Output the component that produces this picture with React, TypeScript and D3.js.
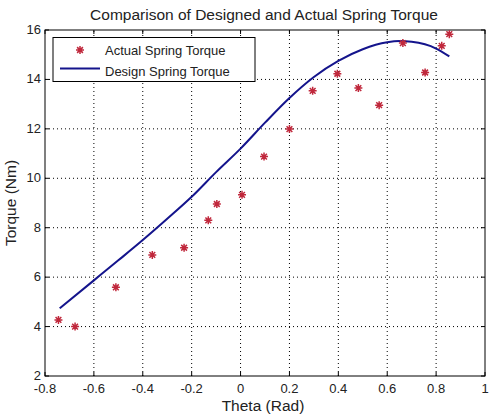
import React from 'react';
import * as d3 from 'd3';

// actual measured torque samples
const actualTheta = [-0.745, -0.677, -0.51, -0.361, -0.231, -0.132, -0.097, 0.006, 0.096, 0.2, 0.295, 0.396, 0.482, 0.567, 0.664, 0.755, 0.823, 0.854];
const actualTorque = [4.27, 4.0, 5.59, 6.9, 7.19, 8.3, 8.96, 9.33, 10.88, 11.99, 13.54, 14.23, 13.65, 12.96, 15.47, 14.28, 15.36, 15.83];

// design curve
const designTheta = [-0.74, -0.6, -0.5, -0.4, -0.3, -0.2, -0.1, 0, 0.1, 0.2, 0.3, 0.4, 0.5, 0.6, 0.65, 0.7, 0.8, 0.854];
const designTorque = [4.74, 5.87, 6.68, 7.5, 8.36, 9.25, 10.25, 11.2, 12.25, 13.25, 14.1, 14.75, 15.22, 15.5, 15.55, 15.52, 15.25, 14.93];

const xTicks = [-0.8, -0.6, -0.4, -0.2, 0, 0.2, 0.4, 0.6, 0.8, 1];
const yTicks = [2, 4, 6, 8, 10, 12, 14, 16];

const W = 492;
const H = 414;
const margin = { top: 30, right: 7, bottom: 38, left: 45 };
const font = 'Liberation Sans, Arial, sans-serif';

const star = (cx: number, cy: number, r: number) => {
  const d = r * 0.72;
  return `M${cx - r},${cy}L${cx + r},${cy}M${cx},${cy - r}L${cx},${cy + r}` +
    `M${cx - d},${cy - d}L${cx + d},${cy + d}M${cx - d},${cy + d}L${cx + d},${cy - d}`;
};

const App = () => {
  const x = d3.scaleLinear().domain([-0.8, 1]).range([margin.left, W - margin.right]);
  const y = d3.scaleLinear().domain([2, 16]).range([H - margin.bottom, margin.top]);
  const [x0, x1] = x.range();
  const [y0, y1] = y.range();

  const line = d3.line<number>()
    .x((_, i) => x(designTheta[i]))
    .y((d) => y(d))
    .curve(d3.curveMonotoneX);

  const fmt = (v: number) => String(v);

  return (
    <svg width={W} height={H} style={{ position: 'absolute', left: 0, top: 0, background: '#fff' }}
      fontFamily={font}>
      {/* grid */}
      {xTicks.slice(1, -1).map((t) => (
        <line key={'gx' + t} x1={x(t)} x2={x(t)} y1={y0} y2={y1} stroke="#000" strokeWidth={1} strokeDasharray="1,3" />
      ))}
      {yTicks.slice(1, -1).map((t) => (
        <line key={'gy' + t} x1={x0} x2={x1} y1={y(t)} y2={y(t)} stroke="#000" strokeWidth={1} strokeDasharray="1,3" />
      ))}
      {/* ticks inward */}
      {xTicks.map((t) => (
        <g key={'tx' + t}>
          <line x1={x(t)} x2={x(t)} y1={y0} y2={y0 - 4} stroke="#000" />
          <line x1={x(t)} x2={x(t)} y1={y1} y2={y1 + 4} stroke="#000" />
          <text x={x(t)} y={y0 + 17} textAnchor="middle" fontSize={13} fill="#222">{fmt(t)}</text>
        </g>
      ))}
      {yTicks.map((t) => (
        <g key={'ty' + t}>
          <line x1={x0} x2={x0 + 4} y1={y(t)} y2={y(t)} stroke="#000" />
          <line x1={x1} x2={x1 - 4} y1={y(t)} y2={y(t)} stroke="#000" />
          <text x={x0 - 4} y={y(t) + 4} textAnchor="end" fontSize={13} fill="#222">{t}</text>
        </g>
      ))}
      <rect x={x0} y={y1} width={x1 - x0} height={y0 - y1} fill="none" stroke="#000" strokeWidth={1} />

      {/* design line */}
      <path d={line(designTorque) || ''} fill="none" stroke="#14148c" strokeWidth={2} />

      {/* actual points */}
      {actualTorque.map((v, i) => (
        <path key={'p' + i} d={star(x(actualTheta[i]), y(v), 4)} stroke="#c0283c" strokeWidth={1.5} />
      ))}

      {/* legend */}
      <rect x={53} y={37.5} width={202} height={44} fill="#fff" stroke="#000" />
      <path d={star(80, 50, 4)} stroke="#c0283c" strokeWidth={1.5} />
      <text x={105} y={55} fontSize={13} fill="#222">Actual Spring Torque</text>
      <line x1={60} x2={100} y1={68.5} y2={68.5} stroke="#14148c" strokeWidth={2} />
      <text x={105} y={76} fontSize={13} fill="#222">Design Spring Torque</text>

      {/* titles */}
      <text x={264} y={20} textAnchor="middle" fontSize={15.5} fill="#222">Comparison of Designed and Actual Spring Torque</text>
      <text x={263} y={411} textAnchor="middle" fontSize={15.5} fill="#222">Theta (Rad)</text>
      <text transform={`translate(16,${(y0 + y1) / 2}) rotate(-90)`} textAnchor="middle" fontSize={15.5} fill="#222">Torque (Nm)</text>
    </svg>
  );
};

export default App;
